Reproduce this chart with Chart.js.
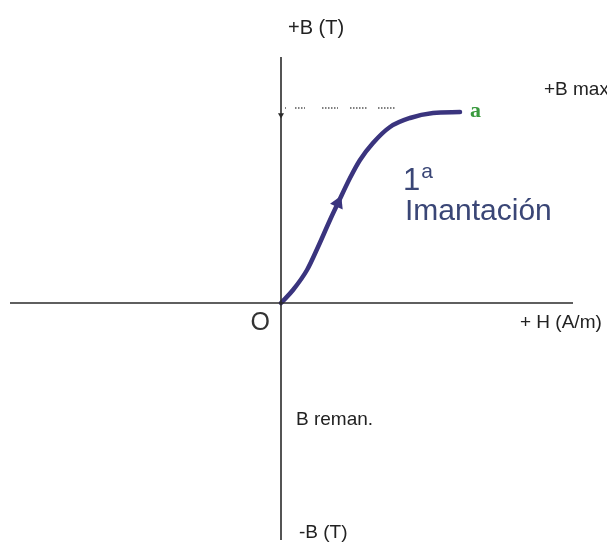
<!DOCTYPE html>
<html>
<head>
<meta charset="utf-8">
<script src="https://cdn.jsdelivr.net/npm/chart.js@4.4.1/dist/chart.umd.min.js"></script>
<style>
  html, body { margin: 0; padding: 0; background: #ffffff; }
  #wrap { width: 607px; height: 543px; }
</style>
</head>
<body>
<div id="wrap"><canvas id="c" width="607" height="543"></canvas></div>
<script>
// First magnetisation curve: field strength H against flux density B
const hValues = [0, 0.6, 1.3, 1.85, 2.45, 2.85, 3.45, 3.95, 4.6, 5.45, 6.45, 7.6, 8.95];
const bValues = [0, 0.65, 1.65, 2.8, 4.15, 5.0, 6.25, 7.15, 8.0, 8.8, 9.25, 9.5, 9.55];

// Saturation level (B max) marked with a dotted guide
const bMax = 9.75;
const guideStarts = [0.2, 0.7, 2.05, 3.45, 4.85];
const guideEnds   = [0.25, 1.2, 2.85, 4.3, 5.7];

// Extent of the H and B axes
const hAxis = [-13.55, 14.6];
const bAxis = [-11.85, 12.3];

// Direction marker on the curve
const arrowH = 2.85, arrowB = 5.0;

const curveColor = '#3a347e';

const guideData = [];
guideStarts.forEach((s, i) => {
  guideData.push({x: s, y: bMax}, {x: guideEnds[i], y: bMax});
  if (i < guideStarts.length - 1) guideData.push({x: (guideEnds[i] + guideStarts[i + 1]) / 2, y: null});
});

const labels = [
  {text: '+B (T)', x: 0.35, y: 13.75, font: '20px "Liberation Sans"', color: '#222', align: 'left'},
  {text: '+B max', x: 13.15, y: 10.65, font: '19px "Liberation Sans"', color: '#222', align: 'left'},
  {text: 'O', x: -0.55, y: -1.0, font: '25px "Liberation Sans"', color: '#333', align: 'right'},
  {text: '+ H (A/m)', x: 11.95, y: -1.0, font: '19px "Liberation Sans"', color: '#222', align: 'left'},
  {text: 'B reman.', x: 0.75, y: -5.85, font: '19px "Liberation Sans"', color: '#222', align: 'left'},
  {text: '-B (T)', x: 0.9, y: -11.5, font: '19px "Liberation Sans"', color: '#222', align: 'left'},
  {text: 'a', x: 9.45, y: 9.6, font: 'bold 22px "Liberation Serif"', color: '#3a9a3e', align: 'left'},
  {text: 'Imantación', x: 6.2, y: 4.55, font: '30px "Liberation Sans"', color: '#3a4676', align: 'left'}
];

const textPlugin = {
  id: 'textPlugin',
  afterDatasetsDraw(chart) {
    const {ctx, scales} = chart;
    ctx.save();
    ctx.textBaseline = 'middle';
    labels.forEach(l => {
      ctx.font = l.font;
      ctx.fillStyle = l.color;
      ctx.textAlign = l.align;
      ctx.fillText(l.text, scales.x.getPixelForValue(l.x), scales.y.getPixelForValue(l.y));
    });
    // "1ª" with a raised ordinal indicator
    const px = scales.x.getPixelForValue(6.1), py = scales.y.getPixelForValue(6.1);
    ctx.textAlign = 'left';
    ctx.fillStyle = '#3a4676';
    ctx.font = '31px "Liberation Sans"';
    ctx.fillText('1', px, py);
    const w = ctx.measureText('1').width;
    ctx.font = '21px "Liberation Sans"';
    ctx.fillText('a', px + w + 1, py - 9);
    ctx.restore();
  }
};

new Chart(document.getElementById('c'), {
  type: 'scatter',
  data: {
    datasets: [
      {
        data: [{x: hAxis[0], y: 0}, {x: hAxis[1], y: 0}],
        showLine: true, borderColor: '#2a2a2a', borderWidth: 1.6, pointRadius: 0
      },
      {
        data: [{x: 0, y: bAxis[0]}, {x: 0, y: bAxis[1]}],
        showLine: true, borderColor: '#2a2a2a', borderWidth: 1.6, pointRadius: 0
      },
      {
        data: [{x: 0, y: 9.4}],
        pointStyle: 'triangle', rotation: 180, pointRadius: 3.5,
        backgroundColor: '#2a2a2a', borderColor: '#2a2a2a', borderWidth: 0
      },
      {
        data: guideData,
        showLine: true, spanGaps: false, borderColor: '#555', borderWidth: 1.4,
        borderDash: [1.5, 1.5], pointRadius: 0
      },
      {
        data: hValues.map((h, i) => ({x: h, y: bValues[i]})),
        showLine: true, borderColor: curveColor, borderWidth: 4.5,
        cubicInterpolationMode: 'monotone', pointRadius: 0, borderCapStyle: 'round'
      },
      {
        data: [{x: arrowH, y: arrowB}],
        pointStyle: 'triangle', rotation: 24, pointRadius: 8,
        backgroundColor: curveColor, borderColor: curveColor, borderWidth: 0
      }
    ]
  },
  options: {
    responsive: false,
    animation: false,
    devicePixelRatio: 1,
    layout: {padding: 0, autoPadding: false},
    plugins: {legend: {display: false}, tooltip: {enabled: false}},
    scales: {
      x: {type: 'linear', min: -14.05, max: 16.3, display: false},
      y: {type: 'linear', min: -12, max: 15.15, display: false}
    }
  },
  plugins: [textPlugin]
});
</script>
</body>
</html>
